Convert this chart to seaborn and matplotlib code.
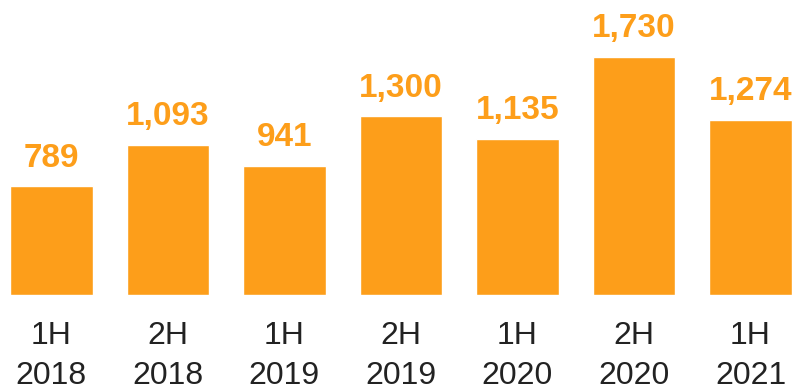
import matplotlib
matplotlib.use("Agg")
import matplotlib.pyplot as plt
import seaborn as sns
import pandas as pd

# Half-year totals
periods = ["1H\n2018", "2H\n2018", "1H\n2019", "2H\n2019", "1H\n2020", "2H\n2020", "1H\n2021"]
values = [789, 1093, 941, 1300, 1135, 1730, 1274]

df = pd.DataFrame({"period": periods, "value": values})

sns.set_theme(style="white")
plt.rcParams["font.family"] = ["Liberation Sans", "DejaVu Sans"]

orange = "#FD9E1A"

fig = plt.figure(figsize=(7.94, 3.89), dpi=100)
ax = fig.add_axes([0, 0.2416, 1, 0.7584])

sns.barplot(data=df, x="period", y="value", color=orange, width=0.71,
            saturation=1, ax=ax)

for c in ax.containers:
    ax.bar_label(c, labels=[f"{v:,}" for v in values], padding=9,
                 color=orange, fontsize=24, fontweight="bold")

ax.set_xlim(-0.441, 6.373)
ax.set_ylim(0, 2144)
ax.set_xlabel("")
ax.set_ylabel("")
ax.set_yticks([])
ax.tick_params(axis="x", length=0, pad=19, labelsize=23, colors="#222222")
for lbl in ax.get_xticklabels():
    lbl.set_linespacing(1.42)
for s in ax.spines.values():
    s.set_visible(False)

fig.savefig("out.png", dpi=100)
